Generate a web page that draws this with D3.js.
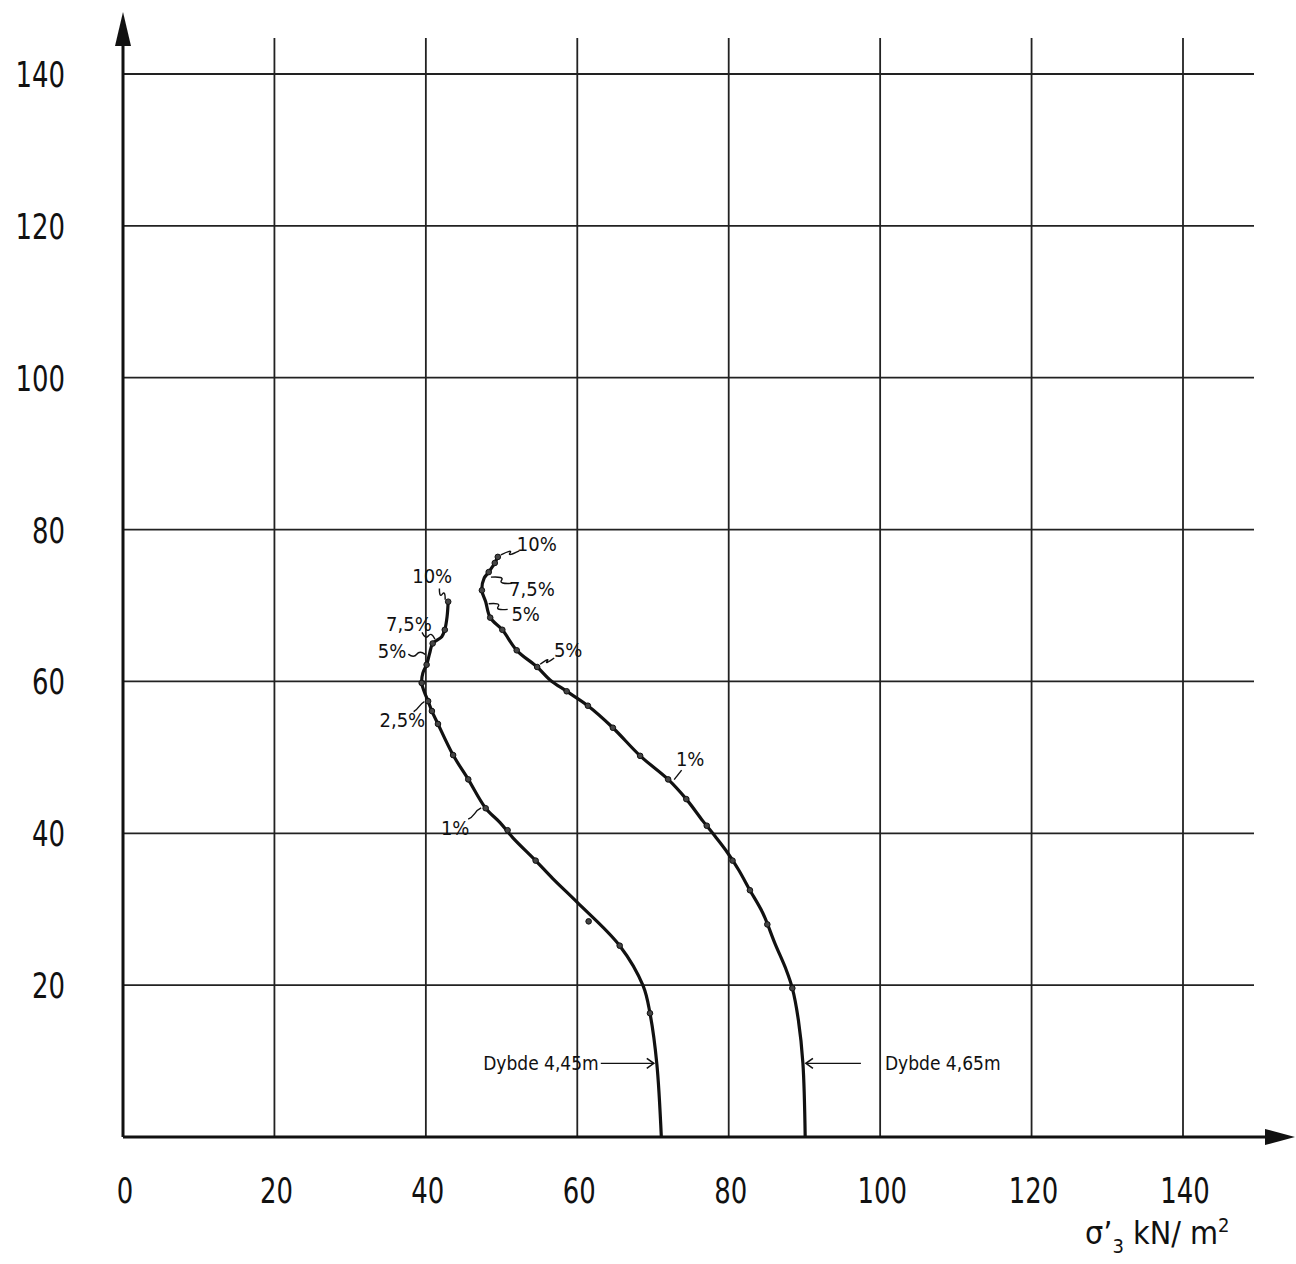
<!DOCTYPE html>
<html>
<head>
<meta charset="utf-8">
<script src="https://cdn.jsdelivr.net/npm/d3@7"></script>
<style>
  body { margin: 0; background: #fff; }
  svg text { font-family: "DejaVu Sans Condensed", "DejaVu Sans", sans-serif; fill: #111; }
</style>
</head>
<body>
<div id="chart"></div>
<script>
// tick values on both axes
const xTicks = [0, 20, 40, 60, 80, 100, 120, 140];
const yTicks = [20, 40, 60, 80, 100, 120, 140];

// curve for Dybde 4,45m  [sigma3', y]
const curve445 = [
  [71.1, 0], [70.5, 9.7], [69.6, 16.3], [68.7, 19.9], [65.6, 25.2], [60.0, 30.9],
  [56.8, 34.0], [54.5, 36.4], [51.5, 39.4], [49.8, 41.4], [47.9, 43.3], [45.6, 47.1],
  [43.6, 50.3], [41.6, 54.4], [40.8, 56.1], [40.3, 57.4], [39.8, 58.6], [39.45, 59.8],
  [39.6, 61.1], [40.1, 62.2], [40.5, 63.7], [40.9, 65.0], [42.1, 65.9], [42.5, 66.8],
  [42.8, 68.5], [42.95, 70.5]
];
const dots445 = [
  [69.6, 16.3], [65.6, 25.2], [61.5, 28.4], [54.5, 36.4], [50.8, 40.4], [47.9, 43.3],
  [45.6, 47.1], [43.6, 50.3], [41.6, 54.4], [40.8, 56.1], [40.3, 57.4], [39.45, 59.8],
  [40.1, 62.2], [40.9, 65.0], [42.5, 66.8], [42.95, 70.5]
];

// curve for Dybde 4,65m
const curve465 = [
  [90.1, 0], [89.8, 9.7], [89.2, 15.4], [88.4, 19.6], [87.6, 22.0], [86.1, 25.5],
  [84.5, 29.5], [82.8, 32.5], [81.3, 35.2], [79.8, 37.5], [78.2, 39.6], [76.6, 41.6],
  [74.4, 44.5], [72.0, 47.1], [68.3, 50.2], [64.7, 53.9], [61.4, 56.8], [58.6, 58.7],
  [56.4, 60.2], [54.7, 61.9], [52.0, 64.1], [50.1, 66.8], [48.5, 68.4], [47.9, 70.5],
  [47.4, 72.0], [47.7, 73.6], [48.3, 74.4], [49.1, 75.6], [49.5, 76.4]
];
const dots465 = [
  [88.4, 19.6], [85.1, 28.0], [82.8, 32.5], [80.5, 36.4], [77.1, 41.0], [74.4, 44.5],
  [72.0, 47.1], [68.3, 50.2], [64.7, 53.9], [61.4, 56.8], [58.6, 58.7], [54.7, 61.9],
  [52.0, 64.1], [50.1, 66.8], [48.5, 68.4], [47.4, 72.0], [48.3, 74.4], [49.1, 75.6], [49.5, 76.4]
];

// strain labels: text, anchor point on curve
const strainLabels = [
  { text: "10%",  at: [42.95, 70.5], dx: -16, dy: -24 },
  { text: "7,5%", at: [41.6, 65.3],  dx: -29, dy: -16 },
  { text: "5%",   at: [40.3, 63.3],  dx: -36, dy: -4 },
  { text: "2,5%", at: [40.2, 57.6],  dx: -25, dy: 22 },
  { text: "1%",   at: [47.7, 43.6],  dx: -29, dy: 24 },
  { text: "10%",  at: [49.5, 76.4],  dx: 39,  dy: -11 },
  { text: "7,5%", at: [48.2, 74.0],  dx: 44,  dy: 15 },
  { text: "5%",   at: [47.9, 70.5],  dx: 40,  dy: 14 },
  { text: "5%",   at: [54.7, 62.0],  dx: 31,  dy: -15 },
  { text: "1%",   at: [72.4, 46.8],  dx: 19,  dy: -21 }
];

const depthLabels = [
  { text: "Dybde 4,45m", at: [70.5, 9.7], side: "left" },
  { text: "Dybde  4,65m", at: [89.8, 9.7], side: "right" }
];

const width = 1296, height = 1264;
const svg = d3.select("#chart").append("svg")
    .attr("width", width)
    .attr("height", height);

const x = d3.scaleLinear().domain([0, 140]).range([123, 1183]);
const y = d3.scaleLinear().domain([0, 140]).range([1137, 74]);

// grid
svg.append("g").selectAll("line")
    .data(xTicks.filter(d => d > 0))
    .enter().append("line")
    .attr("x1", d => x(d)).attr("x2", d => x(d))
    .attr("y1", 38).attr("y2", y(0))
    .attr("stroke", "#222").attr("stroke-width", 1.8);

svg.append("g").selectAll("line")
    .data(yTicks)
    .enter().append("line")
    .attr("x1", x(0)).attr("x2", 1254)
    .attr("y1", d => y(d)).attr("y2", d => y(d))
    .attr("stroke", "#222").attr("stroke-width", 1.8);

// axes with arrows
svg.append("line")
    .attr("x1", x(0)).attr("x2", x(0)).attr("y1", y(0)).attr("y2", 40)
    .attr("stroke", "#111").attr("stroke-width", 3);
svg.append("path")
    .attr("d", `M${x(0)},12 L${x(0) - 8},46 L${x(0) + 8},46 Z`)
    .attr("fill", "#111");
svg.append("line")
    .attr("x1", x(0)).attr("x2", 1270).attr("y1", y(0)).attr("y2", y(0))
    .attr("stroke", "#111").attr("stroke-width", 3);
svg.append("path")
    .attr("d", `M1295,${y(0)} L1265,${y(0) - 8} L1265,${y(0) + 8} Z`)
    .attr("fill", "#111");

// tick labels (narrow, like the hand lettering)
svg.append("g").selectAll("text")
    .data(xTicks)
    .enter().append("text")
    .attr("x", d => x(d) + 2).attr("y", 1203)
    .attr("text-anchor", "middle")
    .attr("font-size", 36)
    .attr("textLength", d => String(d).length * 16.5)
    .attr("lengthAdjust", "spacingAndGlyphs")
    .text(d => d);

svg.append("g").selectAll("text")
    .data(yTicks)
    .enter().append("text")
    .attr("x", 65).attr("y", d => y(d) + 13)
    .attr("text-anchor", "end")
    .attr("font-size", 36)
    .attr("textLength", d => String(d).length * 16.5)
    .attr("lengthAdjust", "spacingAndGlyphs")
    .text(d => d);

// axis title
const title = svg.append("text")
    .attr("x", 1085).attr("y", 1244)
    .attr("font-size", 32);
title.append("tspan").text("σ’");
title.append("tspan").attr("font-size", 20).attr("dy", 9).text("3");
title.append("tspan").attr("dy", -9).text(" kN/ m");
title.append("tspan").attr("font-size", 20).attr("dy", -12).text("2");

// curves
const line = d3.line()
    .x(d => x(d[0])).y(d => y(d[1]))
    .curve(d3.curveCatmullRom.alpha(0.5));

[curve445, curve465].forEach(c => {
  svg.append("path")
      .datum(c)
      .attr("d", line)
      .attr("fill", "none")
      .attr("stroke", "#111")
      .attr("stroke-width", 3.2);
});

[dots445, dots465].forEach(ds => {
  svg.append("g").selectAll("circle")
      .data(ds)
      .enter().append("circle")
      .attr("cx", d => x(d[0])).attr("cy", d => y(d[1]))
      .attr("r", 2.8)
      .attr("fill", "#444").attr("stroke", "#111").attr("stroke-width", 1);
});

// strain labels with little wavy leaders
const lab = svg.append("g").selectAll("g")
    .data(strainLabels)
    .enter().append("g");

lab.append("path")
    .attr("d", d => {
      const ax = x(d.at[0]), ay = y(d.at[1]);
      const sx = Math.sign(d.dx), sy = Math.sign(d.dy);
      const x0 = ax + sx * 3, y0 = ay + sy * 2;
      const x1 = ax + d.dx * 0.55, y1 = ay + d.dy * 0.55;
      const mx = (x0 + x1) / 2, my = (y0 + y1) / 2;
      return `M${x0},${y0} Q${mx + 3},${my - 4} ${mx},${my} T${x1},${y1}`;
    })
    .attr("fill", "none").attr("stroke", "#111").attr("stroke-width", 1.4);

lab.append("text")
    .attr("x", d => x(d.at[0]) + d.dx)
    .attr("y", d => y(d.at[1]) + d.dy)
    .attr("text-anchor", "middle")
    .attr("dominant-baseline", "middle")
    .attr("font-size", 20)
    .text(d => d.text);

// depth labels with arrows
depthLabels.forEach(d => {
  const ax = x(d.at[0]), ay = y(d.at[1]);
  const g = svg.append("g");
  if (d.side === "left") {
    g.append("line").attr("x1", ax - 56).attr("x2", ax - 3).attr("y1", ay).attr("y2", ay)
        .attr("stroke", "#111").attr("stroke-width", 1.4);
    g.append("path").attr("d", `M${ax - 10},${ay - 5} L${ax - 3},${ay} L${ax - 10},${ay + 5}`)
        .attr("fill", "none").attr("stroke", "#111").attr("stroke-width", 1.6);
    g.append("text").attr("x", ax - 58).attr("y", ay + 7)
        .attr("text-anchor", "end").attr("font-size", 19).text(d.text);
  } else {
    g.append("line").attr("x1", ax + 3).attr("x2", ax + 58).attr("y1", ay).attr("y2", ay)
        .attr("stroke", "#111").attr("stroke-width", 1.4);
    g.append("path").attr("d", `M${ax + 10},${ay - 5} L${ax + 3},${ay} L${ax + 10},${ay + 5}`)
        .attr("fill", "none").attr("stroke", "#111").attr("stroke-width", 1.6);
    g.append("text").attr("x", ax + 82).attr("y", ay + 7)
        .attr("text-anchor", "start").attr("font-size", 19).text(d.text);
  }
});
</script>
</body>
</html>
